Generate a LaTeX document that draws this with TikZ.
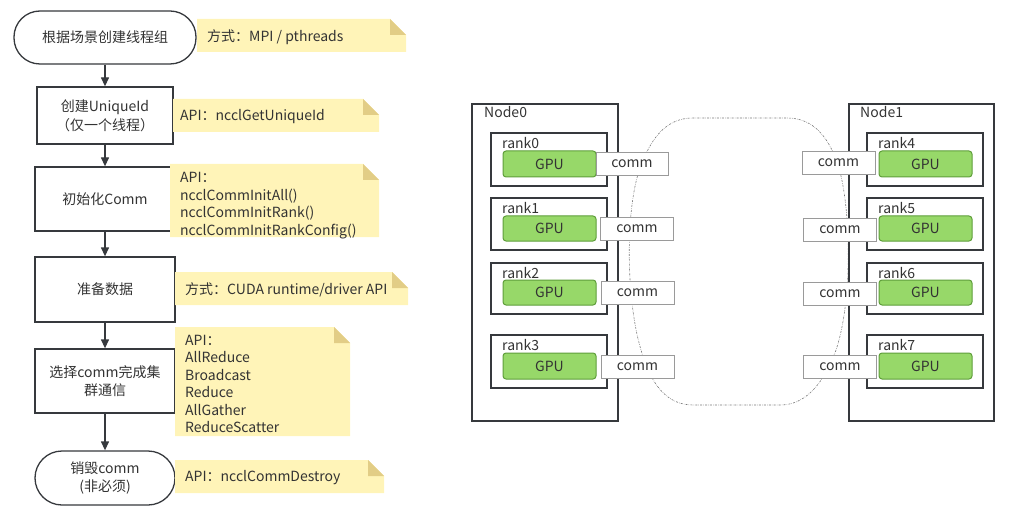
\documentclass[tikz,border=0pt]{standalone}
\usepackage{fontspec}
\setmainfont{Noto Sans CJK SC}
\usetikzlibrary{arrows.meta}
\definecolor{txt}{HTML}{333333}
\definecolor{frame}{HTML}{36393D}
\definecolor{notefill}{HTML}{FFF4B8}
\definecolor{notefold}{HTML}{E2CD86}
\definecolor{gpufill}{HTML}{97D869}
\definecolor{gpudraw}{HTML}{5F9E3B}
\definecolor{commdraw}{HTML}{9A9A9A}
\definecolor{cloudc}{HTML}{777777}
\newcommand\mynote[4]{%
  \fill[notefill] (#1,#2) -- ({#3-16},#2) -- (#3,{#2+16}) -- (#3,#4) -- (#1,#4) -- cycle;
  \fill[notefold] ({#3-16},#2) -- ({#3-16},{#2+16}) -- (#3,{#2+16}) -- cycle;}
\tikzset{
  flow/.style={draw=frame, line width=1.3pt, fill=white, align=center, inner sep=2pt, text=txt},
  term/.style={flow, rounded corners=26pt},
  notetxt/.style={anchor=west, align=left, inner sep=0pt, text=txt, yshift=-1.5pt},
  nodebox/.style={draw=frame, line width=1.3pt, inner sep=0pt},
  rankbox/.style={draw=frame, line width=1.3pt, fill=white, minimum width=116pt, inner sep=0pt},
  lbl/.style={anchor=west, inner sep=0pt, text=txt},
  gpu/.style={draw=gpudraw, fill=gpufill, line width=1pt, rounded corners=3pt, minimum width=93pt, minimum height=26pt, inner sep=0pt, text=txt},
  comm/.style={draw=commdraw, fill=white, line width=0.9pt, minimum width=73pt, minimum height=23pt, inner sep=0pt, text=txt},
  arr/.style={draw=frame, line width=1.3pt, -{Triangle[length=9pt,width=8pt]}},
  cloud/.style={draw=cloudc, line width=0.6pt, dash pattern=on 2pt off 1.2pt on 0.5pt off 1.2pt}
}
\begin{document}
\begin{tikzpicture}[x=1pt,y=-1pt, font=\fontsize{14}{17.5}\selectfont]
\useasboundingbox (0,0) rectangle (1032,521);
% ---------- left flowchart ----------
\node[term, minimum width=182pt, minimum height=53pt] (s1) at (105,37.5) {根据场景创建线程组};
\node[flow, minimum width=136pt, minimum height=57pt, font=\fontsize{14}{19}\selectfont] (s2) at (105,115.5) {创建UniqueId\\（仅一个线程）};
\node[flow, minimum width=140pt, minimum height=64pt] (s3) at (105,199) {初始化Comm};
\node[flow, minimum width=140pt, minimum height=65pt] (s4) at (105,289.5) {准备数据};
\node[flow, minimum width=140pt, minimum height=64pt] (s5) at (105,381) {选择comm完成集\\群通信};
\node[term, minimum width=140pt, minimum height=54pt, rounded corners=27pt] (s6) at (105,478) {销毁comm\\(非必须)};
\draw[arr] (s1) -- (s2);
\draw[arr] (s2) -- (s3);
\draw[arr] (s3) -- (s4);
\draw[arr] (s4) -- (s5);
\draw[arr] (s5) -- (s6);
\mynote{197}{19}{406}{52}
\node[notetxt] (n1) at (207,35.5) {方式：MPI / pthreads};
\mynote{173}{99}{379}{132}
\node[notetxt] (n2) at (180,115.5) {API：ncclGetUniqueId};
\mynote{170}{164}{379}{237}
\node[notetxt, anchor=north west] (n3) at (180,171) {API：\\ncclCommInitAll()\\ncclCommInitRank()\\ncclCommInitRankConfig()};
\mynote{175}{272}{408}{305}
\node[notetxt] (n4) at (185,288.5) {方式：CUDA runtime/driver API};
\mynote{175}{327}{350}{436}
\node[notetxt, anchor=north west] (n5) at (185,333.5) {API：\\AllReduce\\Broadcast\\Reduce\\AllGather\\ReduceScatter};
\mynote{175}{460}{384}{493}
\node[notetxt] (n6) at (185,476.5) {API：ncclCommDestroy};
% ---------- right diagram ----------
\draw[cloud] (740,118) -- (787,118) .. controls (812,118) and (828,135) .. (838,165)
  .. controls (851,205) and (853,300) .. (836,350) .. controls (823,385) and (805,405) .. (780,405)
  -- (693,405) .. controls (667,405) and (651,385) .. (641,350)
  .. controls (626,300) and (625,210) .. (640,168) .. controls (652,135) and (668,118) .. (693,118) -- cycle;
\node[nodebox, minimum width=146pt, minimum height=317pt] (N0) at (545,262.5) {};
\node[nodebox, minimum width=145pt, minimum height=317pt] (N1) at (921.5,262.5) {};
\node[lbl] (N0l) at (484,112) {Node0};
\node[lbl] (N1l) at (860,112) {Node1};
% ranks
\node[rankbox, minimum height=53pt] (r0) at (549,159.5) {};
\node[rankbox, minimum height=52pt] (r1) at (549,224) {};
\node[rankbox, minimum height=51pt] (r2) at (549,288.5) {};
\node[rankbox, minimum height=53pt] (r3) at (549,361.5) {};
\node[rankbox, minimum height=53pt] (r4) at (925,159.5) {};
\node[rankbox, minimum height=52pt] (r5) at (925,224) {};
\node[rankbox, minimum height=51pt] (r6) at (925,288.5) {};
\node[rankbox, minimum height=53pt] (r7) at (925,361.5) {};
\node[lbl] (r0l) at (502,143) {rank0};
\node[lbl] (r1l) at (502,208) {rank1};
\node[lbl] (r2l) at (502,273) {rank2};
\node[lbl] (r3l) at (502,345) {rank3};
\node[lbl] (r4l) at (878,143) {rank4};
\node[lbl] (r5l) at (878,208) {rank5};
\node[lbl] (r6l) at (878,273) {rank6};
\node[lbl] (r7l) at (878,345) {rank7};
% GPUs
\node[gpu] (g0) at (549.5,164) {GPU};
\node[gpu, minimum height=25pt] (g1) at (549.5,228.5) {GPU};
\node[gpu, minimum height=25pt] (g2) at (549.5,292.5) {GPU};
\node[gpu] (g3) at (549.5,366) {GPU};
\node[gpu] (g4) at (925.5,164) {GPU};
\node[gpu, minimum height=25pt] (g5) at (925.5,228.5) {GPU};
\node[gpu, minimum height=25pt] (g6) at (925.5,292.5) {GPU};
\node[gpu] (g7) at (925.5,366) {GPU};
% comms
\node[comm, minimum width=72pt] (c0) at (632,163.5) {comm};
\node[comm] (c1) at (637,228.5) {comm};
\node[comm] (c2) at (637.5,293) {comm};
\node[comm] (c3) at (637.5,366.5) {comm};
\node[comm] (c4) at (838.5,162.5) {comm};
\node[comm] (c5) at (840,229.5) {comm};
\node[comm] (c6) at (840,294) {comm};
\node[comm] (c7) at (840,367) {comm};
\end{tikzpicture}
\end{document}
